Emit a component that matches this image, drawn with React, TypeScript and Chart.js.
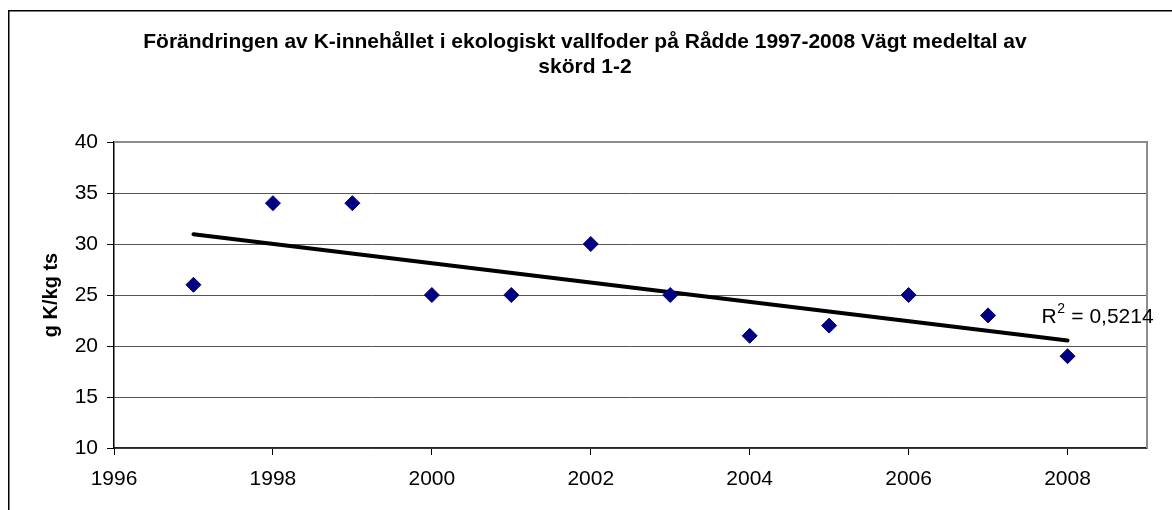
import React, { useEffect, useRef } from "react";
import { Chart, registerables } from "chart.js";

Chart.register(...registerables);

const titleLines = [
  "Förändringen av K-innehållet i ekologiskt vallfoder på Rådde 1997-2008 Vägt medeltal av",
  "skörd 1-2",
];
const yAxisTitle = "g K/kg ts";
const years = [1997, 1998, 1999, 2000, 2001, 2002, 2003, 2004, 2005, 2006, 2007, 2008];
const kValues = [26, 34, 34, 25, 25, 30, 25, 21, 22, 25, 23, 19];
const xMin = 1996;
const xMax = 2009;
const xStep = 2;
const yMin = 10;
const yMax = 40;
const yStep = 5;

const FONT = "'Liberation Sans', Arial, sans-serif";

function linearFit(xs: number[], ys: number[]) {
  const n = xs.length;
  const mx = xs.reduce((a, b) => a + b, 0) / n;
  const my = ys.reduce((a, b) => a + b, 0) / n;
  let sxy = 0, sxx = 0, syy = 0;
  for (let i = 0; i < n; i++) {
    sxy += (xs[i] - mx) * (ys[i] - my);
    sxx += (xs[i] - mx) ** 2;
    syy += (ys[i] - my) ** 2;
  }
  const slope = sxy / sxx;
  const intercept = my - slope * mx;
  const r2 = (sxy * sxy) / (sxx * syy);
  return { slope, intercept, r2 };
}

export default function App() {
  const ref = useRef<HTMLCanvasElement | null>(null);

  useEffect(() => {
    document.documentElement.style.overflow = "hidden";
    document.body.style.overflow = "hidden";
    const canvas = ref.current;
    if (!canvas) return;
    const fit = linearFit(years, kValues);
    const x0 = years[0];
    const x1 = years[years.length - 1];
    const trend = [
      { x: x0, y: fit.intercept + fit.slope * x0 },
      { x: x1, y: fit.intercept + fit.slope * x1 },
    ];
    const r2Text = fit.r2.toFixed(4).replace(".", ",");

    const decor = {
      id: "decor",
      beforeDraw(chart: any) {
        const ctx = chart.ctx;
        ctx.save();
        ctx.fillStyle = "#fff";
        ctx.fillRect(0, 0, chart.width, chart.height);
        ctx.strokeStyle = "#000";
        ctx.lineWidth = 1.5;
        ctx.strokeRect(0.75, 2.75, 3000, 3000);
        ctx.fillStyle = "#000";
        ctx.font = `bold 21px ${FONT}`;
        ctx.textAlign = "center";
        ctx.textBaseline = "alphabetic";
        ctx.fillText(titleLines[0], 577, 40);
        ctx.fillText(titleLines[1], 577, 65);
        ctx.restore();
      },
      beforeDatasetsDraw(chart: any) {
        const ctx = chart.ctx;
        const a = chart.chartArea;
        ctx.save();
        ctx.strokeStyle = "#8c8c8c";
        ctx.lineWidth = 2;
        ctx.beginPath();
        ctx.moveTo(a.left, a.top);
        ctx.lineTo(a.right, a.top);
        ctx.lineTo(a.right, a.bottom);
        ctx.stroke();
        ctx.restore();
      },
      afterDatasetsDraw(chart: any) {
        const ctx = chart.ctx;
        const xs = chart.scales.x;
        const ys = chart.scales.y;
        const px = xs.getPixelForValue(trend[1].x) - 26;
        const base = ys.getPixelForValue(trend[1].y) - 18;
        ctx.save();
        ctx.fillStyle = "#000";
        ctx.textBaseline = "alphabetic";
        ctx.textAlign = "left";
        ctx.font = `21px ${FONT}`;
        ctx.fillText("R", px, base);
        const wR = ctx.measureText("R").width;
        ctx.font = `14px ${FONT}`;
        ctx.fillText("2", px + wR + 0.5, base - 10);
        const w2 = ctx.measureText("2").width;
        ctx.font = `21px ${FONT}`;
        ctx.fillText(" = " + r2Text, px + wR + w2 + 1, base);
        ctx.restore();
      },
    };

    const chart = new Chart(canvas, {
      type: "scatter",
      data: {
        datasets: [
          {
            label: "K",
            data: years.map((y, i) => ({ x: y, y: kValues[i] })),
            pointStyle: "rectRot",
            pointRadius: 7.5,
            pointBackgroundColor: "#000080",
            pointBorderColor: "#000080",
            pointBorderWidth: 1,
            showLine: false,
            order: 1,
          },
          {
            type: "line",
            label: "trend",
            data: trend,
            borderColor: "#000",
            borderWidth: 4,
            borderCapStyle: "round",
            pointRadius: 0,
            fill: false,
            order: 2,
          } as any,
        ],
      },
      options: {
        animation: false,
        responsive: false,
        layout: { padding: { top: 134, right: 25, left: 0, bottom: 0 } },
        plugins: {
          legend: { display: false },
          tooltip: { enabled: false },
          title: { display: false },
        },
        scales: {
          x: {
            type: "linear",
            min: xMin,
            max: xMax,
            afterFit(scale: any) {
              scale.height = 62;
            },
            ticks: {
              stepSize: xStep,
              includeBounds: false,
              color: "#000",
              font: { family: FONT, size: 21 },
              padding: 12,
              maxRotation: 0,
              callback: (v: any) => String(v),
            },
            grid: {
              drawOnChartArea: false,
              drawTicks: true,
              tickLength: 7,
              color: "#000",
            },
            border: { color: "#222", width: 1.5 },
          },
          y: {
            min: yMin,
            max: yMax,
            afterFit(scale: any) {
              scale.width = 106;
            },
            ticks: {
              stepSize: yStep,
              color: "#000",
              font: { family: FONT, size: 21 },
              padding: 9,
            },
            grid: {
              color: "#555",
              lineWidth: 1,
              tickLength: 7,
              tickColor: "#000",
            },
            border: { color: "#000", width: 1.5 },
            title: {
              display: true,
              text: yAxisTitle,
              color: "#000",
              font: { family: FONT, size: 20, weight: "bold" },
              padding: { top: 31, bottom: 0 },
            },
          },
        },
      },
      plugins: [decor],
    });
    return () => chart.destroy();
  }, []);

  return (
    <div style={{ position: "fixed", left: 8, top: 8, width: 1164, height: 502 }}>
      <canvas ref={ref} width={1164} height={502} style={{ display: "block" }} />
    </div>
  );
}
